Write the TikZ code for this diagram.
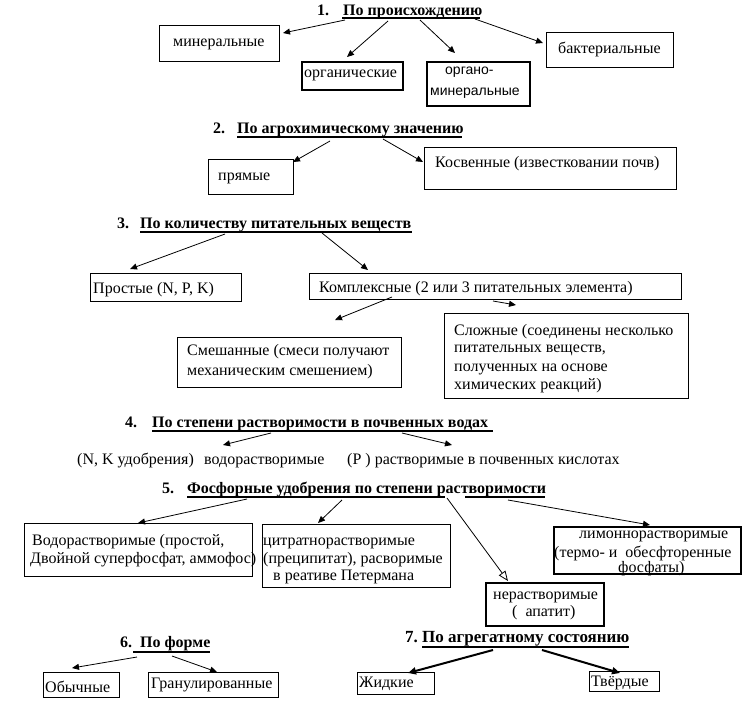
\documentclass[tikz,border=0pt]{standalone}
\usepackage{fontspec}
\setmainfont{Liberation Serif}
\newfontfamily\sansf{Liberation Sans}
\usetikzlibrary{arrows.meta}
\tikzset{
  box/.style={draw, line width=0.9pt, inner sep=0pt, anchor=north west},
  thickbox/.style={box, line width=2.4pt},
  txt/.style={anchor=base west, inner sep=0pt, font=\fontsize{16}{18}\selectfont},
  stxt/.style={anchor=base west, inner sep=0pt, font=\sansf\fontsize{14}{16}\selectfont},
  ttl/.style={anchor=base west, inner sep=0pt, font=\fontsize{16}{18}\selectfont\bfseries},
  arr/.style={-{Triangle[length=7pt,width=6pt]}, line width=0.8pt},
  openarr/.style={-{Triangle[open,length=10pt,width=8pt]}, line width=0.8pt},
  thickarr/.style={-{Triangle[length=8pt,width=7pt]}, line width=2pt},
  uline/.style={line width=2pt},
}
\begin{document}
\begin{tikzpicture}[x=1pt,y=-1pt]
\path[use as bounding box] (0,0) rectangle (747,705);

% ---------- 1 ----------
\node[ttl] (n1) at (317,15) {1.};
\node[ttl] (t1) at (343,15) {По происхождению};
\coordinate (u1a) at (342,18); \coordinate (u1b) at (480,18);
\draw[uline] (u1a) -- (u1b);
\node[box, minimum width=120pt, minimum height=36pt] (b11) at (159,25) {};
\node[txt] (x11) at (173,46) {минеральные};
\node[thickbox, minimum width=101pt, minimum height=28pt] (b12) at (301,61) {};
\node[txt] (x12) at (304,77) {органические};
\node[thickbox, minimum width=103pt, minimum height=44pt] (b13) at (426,61) {};
\node[stxt] (x13a) at (445,74) {органо-};
\node[stxt] (x13b) at (430,95) {минеральные};
\node[box, minimum width=127pt, minimum height=35pt] (b14) at (546,32) {};
\node[txt] (x14) at (558,53) {бактериальные};
\coordinate (a11s) at (345,20); \coordinate (a11e) at (283,33);
\coordinate (a12s) at (388,21); \coordinate (a12e) at (347,57);
\coordinate (a13s) at (420,20); \coordinate (a13e) at (455,53);
\coordinate (a14s) at (475,19); \coordinate (a14e) at (543,43);
\draw[arr] (a11s) -- (a11e);
\draw[arr] (a12s) -- (a12e);
\draw[arr] (a13s) -- (a13e);
\draw[arr] (a14s) -- (a14e);

% ---------- 2 ----------
\node[ttl] (n2) at (213,133) {2.};
\node[ttl] (t2) at (237,133) {По агрохимическому значению};
\coordinate (u2a) at (237,137); \coordinate (u2b) at (462,137);
\draw[uline] (u2a) -- (u2b);
\node[box, minimum width=85pt, minimum height=35pt] (b21) at (208,159) {};
\node[txt] (x21) at (218,180) {прямые};
\node[box, minimum width=252pt, minimum height=42pt] (b22) at (424,147) {};
\node[txt] (x22) at (435,167) {Косвенные (известковании почв)};
\coordinate (a21s) at (330,141); \coordinate (a21e) at (293,162);
\coordinate (a22s) at (383,139); \coordinate (a22e) at (423,162);
\draw[arr] (a21s) -- (a21e);
\draw[arr] (a22s) -- (a22e);

% ---------- 3 ----------
\node[ttl] (n3) at (117,228) {3.};
\node[ttl] (t3) at (140,228) {По количеству питательных веществ};
\coordinate (u3a) at (140,232); \coordinate (u3b) at (412,232);
\draw[uline] (u3a) -- (u3b);
\node[box, minimum width=151pt, minimum height=28pt] (b31) at (90,273) {};
\node[txt] (x31) at (93,293) {Простые (N, P, K)};
\node[box, minimum width=372pt, minimum height=26pt] (b32) at (309,273) {};
\node[txt] (x32) at (319,292) {Комплексные (2 или 3 питательных элемента)};
\node[box, minimum width=224pt, minimum height=50pt] (b33) at (177,337) {};
\node[txt] (x33a) at (187,355) {Смешанные (смеси получают};
\node[txt] (x33b) at (187,375) {механическим смешением)};
\node[box, minimum width=244pt, minimum height=85pt] (b34) at (444,313) {};
\node[txt] (x34a) at (454,335) {Сложные (соединены несколько};
\node[txt] (x34b) at (454,352) {питательных веществ,};
\node[txt] (x34c) at (454,371) {полученных на основе};
\node[txt] (x34d) at (454,389) {химических реакций)};
\coordinate (a31s) at (225,234); \coordinate (a31e) at (130,269);
\coordinate (a32s) at (322,233); \coordinate (a32e) at (368,270);
\coordinate (a33s) at (392,297); \coordinate (a33e) at (335,320);
\coordinate (a34s) at (493,301); \coordinate (a34e) at (516,305);
\draw[arr] (a31s) -- (a31e);
\draw[arr] (a32s) -- (a32e);
\draw[arr] (a33s) -- (a33e);
\draw[arr] (a34s) -- (a34e);

% ---------- 4 ----------
\node[ttl] (n4) at (125,427) {4.};
\node[ttl] (t4) at (152,427) {По степени растворимости в почвенных водах};
\coordinate (u4a) at (152,431); \coordinate (u4b) at (493,431);
\draw[uline] (u4a) -- (u4b);
\node[txt] (x41) at (77,464) {(N, K удобрения)};
\node[txt] (x42) at (204,464) {водорастворимые};
\node[txt] (x43) at (347,464) {(P ) растворимые в почвенных кислотах};
\coordinate (a41s) at (271,433); \coordinate (a41e) at (223,445);
\coordinate (a42s) at (402,433); \coordinate (a42e) at (452,445);
\draw[arr] (a41s) -- (a41e);
\draw[arr] (a42s) -- (a42e);

% ---------- 5 ----------
\node[ttl] (n5) at (162,493) {5.};
\node[ttl] (t5) at (187,493) {Фосфорные удобрения по степени растворимости};
\coordinate (u5a) at (187,497); \coordinate (u5b) at (445,497);
\coordinate (u5c) at (465,497); \coordinate (u5d) at (545,497);
\draw[uline] (u5a) -- (u5b);
\draw[uline] (u5c) -- (u5d);
\node[box, minimum width=228pt, minimum height=53pt] (b51) at (24,523) {};
\node[txt] (x51a) at (32,545) {Водорастворимые (простой,};
\node[txt] (x51b) at (30,563) {Двойной суперфосфат, аммофос)};
\node[box, minimum width=188pt, minimum height=63pt] (b52) at (262,524) {};
\node[txt] (x52a) at (263,545) {цитратнорастворимые};
\node[txt] (x52b) at (263,563) {(преципитат), расворимые};
\node[txt] (x52c) at (273,580) {в реативе Петермана};
\node[thickbox, minimum width=187pt, minimum height=47pt] (b53) at (553,526) {};
\node[txt] (x53a) at (579,538) {лимоннорастворимые};
\node[txt] (x53b) at (554,557) {(термо- и~ обесфторенные};
\node[txt] (x53c) at (618,572) {фосфаты)};
\node[thickbox, minimum width=118pt, minimum height=43pt] (b54) at (485,582) {};
\node[txt] (x54a) at (493,599) {нерастворимые};
\node[txt] (x54b) at (512,616) {(~ апатит)};
\coordinate (a51s) at (247,499); \coordinate (a51e) at (138,523);
\coordinate (a52s) at (342,500); \coordinate (a52e) at (318,523);
\coordinate (a53s) at (447,498); \coordinate (a53e) at (508,581);
\coordinate (a54s) at (508,500); \coordinate (a54e) at (650,525);
\draw[arr] (a51s) -- (a51e);
\draw[arr] (a52s) -- (a52e);
\draw[openarr] (a53s) -- (a53e);
\draw[arr] (a54s) -- (a54e);

% ---------- 6 ----------
\node[ttl] (n6) at (120,647) {6.};
\node[ttl] (t6) at (140,647) {По форме};
\coordinate (u6a) at (133,652); \coordinate (u6b) at (210,652);
\draw[uline] (u6a) -- (u6b);
\node[box, minimum width=76pt, minimum height=25pt] (b61) at (43,672) {};
\node[txt] (x61) at (45,692) {Обычные};
\node[box, minimum width=130pt, minimum height=25pt] (b62) at (148,672) {};
\node[txt] (x62) at (151,688) {Гранулированные};
\coordinate (a61s) at (137,657); \coordinate (a61e) at (72,668);
\coordinate (a62s) at (172,656); \coordinate (a62e) at (217,672);
\draw[arr] (a61s) -- (a61e);
\draw[arr] (a62s) -- (a62e);

% ---------- 7 ----------
\node[ttl, font=\fontsize{17}{19}\selectfont\bfseries] (n7) at (405,642) {7.};
\node[ttl, font=\fontsize{17}{19}\selectfont\bfseries] (t7) at (422,642) {По агрегатному состоянию};
\coordinate (u7a) at (422,647); \coordinate (u7b) at (629,647);
\draw[uline] (u7a) -- (u7b);
\node[box, minimum width=77pt, minimum height=22pt] (b71) at (357,672) {};
\node[txt] (x71) at (359,687) {Жидкие};
\node[box, minimum width=70pt, minimum height=20pt] (b72) at (589,671) {};
\node[txt] (x72) at (591,686) {Твёрдые};
\coordinate (a71s) at (493,650); \coordinate (a71e) at (408,673);
\coordinate (a72s) at (542,650); \coordinate (a72e) at (620,673);
\draw[thickarr] (a71s) -- (a71e);
\draw[thickarr] (a72s) -- (a72e);
\end{tikzpicture}
\end{document}
